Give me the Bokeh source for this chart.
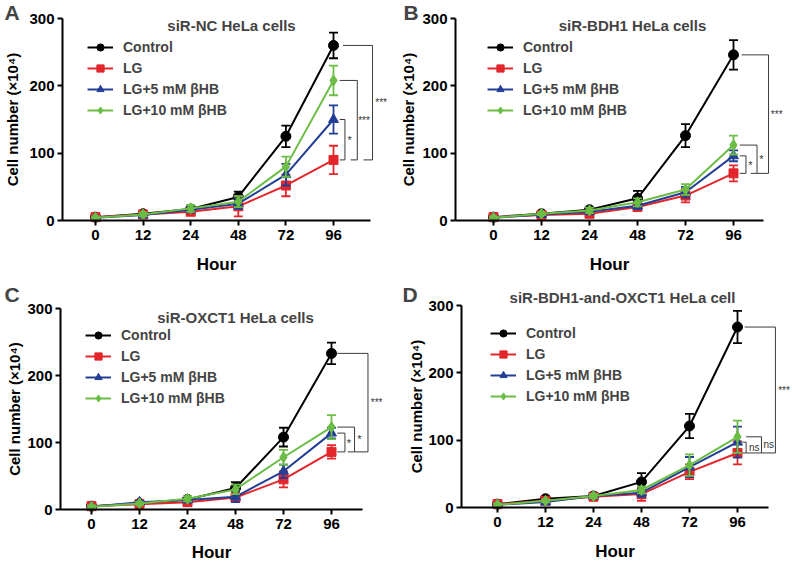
from bokeh.plotting import figure
from bokeh.models import (ColumnDataSource, Legend, LegendItem, Label, FixedTicker, Range1d)
from bokeh.layouts import row, column
from bokeh.embed import file_html
from bokeh.resources import INLINE

# ---------------- data ----------------
hours = ["0", "12", "24", "48", "72", "96"]
groups = ["Control", "LG", "LG+5 mM βHB", "LG+10 mM βHB"]

# Panel A: siR-NC HeLa cells
A_control = [5, 10, 17, 35, 125, 260]
A_control_sd = [2, 3, 4, 8, 16, 19]
A_lg = [5, 9, 13, 21, 52, 90]
A_lg_sd = [2, 3, 4, 15, 16, 21]
A_lg5 = [4, 8, 16, 25, 68, 150]
A_lg5_sd = [2, 3, 4, 8, 16, 21]
A_lg10 = [4, 9, 18, 28, 80, 208]
A_lg10_sd = [2, 3, 5, 8, 15, 22]
A_sig = ["*", "***", "***"]

# Panel B: siR-BDH1 HeLa cells
B_control = [5, 10, 16, 33, 126, 246]
B_control_sd = [2, 3, 3, 11, 17, 22]
B_lg = [5, 8, 10, 20, 37, 70]
B_lg_sd = [2, 2, 3, 5, 10, 12]
B_lg5 = [4, 9, 13, 22, 42, 96]
B_lg5_sd = [2, 2, 3, 5, 8, 8]
B_lg10 = [4, 10, 15, 27, 46, 112]
B_lg10_sd = [2, 2, 4, 6, 8, 14]
B_sig = ["*", "*", "***"]

# Panel C: siR-OXCT1 HeLa cells
C_control = [5, 9, 15, 32, 108, 233]
C_control_sd = [2, 2, 4, 9, 14, 16]
C_lg = [5, 8, 11, 18, 45, 86]
C_lg_sd = [2, 2, 3, 6, 12, 10]
C_lg5 = [4, 11, 14, 19, 57, 114]
C_lg5_sd = [2, 2, 3, 8, 10, 8]
C_lg10 = [4, 9, 16, 30, 78, 123]
C_lg10_sd = [2, 2, 4, 7, 11, 18]
C_sig = ["*", "*", "***"]

# Panel D: siR-BDH1-and-OXCT1 HeLa cell
D_control = [5, 13, 17, 38, 121, 268]
D_control_sd = [2, 3, 4, 13, 18, 24]
D_lg = [5, 10, 16, 20, 53, 81]
D_lg_sd = [2, 2, 3, 10, 11, 17]
D_lg5 = [4, 8, 17, 22, 60, 97]
D_lg5_sd = [2, 3, 3, 6, 15, 23]
D_lg10 = [4, 10, 17, 26, 63, 105]
D_lg10_sd = [2, 2, 3, 5, 16, 24]
D_sig = ["ns", "ns", "***"]

# ---------------- style ----------------
FONT = "Liberation Sans"
COLORS = ["#000000", "#e3262b", "#233e95", "#6cbd45"]
MARKERS = ["circle", "square", "triangle", "diamond"]
MSIZE = [10, 9, 10, 11]


def make_panel(letter, title, means, sds, sig, g):
    ox, oy, fw, fh = g["ox"], g["oy"], g["fw"], g["fh"]
    X0, sp, Y0, k = g["X0"], g["sp"], g["Y0"], g["k"]

    def dx(px):
        return (px - X0) / sp

    def dy(py):
        return (Y0 - py) / k

    p = figure(width=fw, height=fh, output_backend="svg", toolbar_location=None,
               x_range=Range1d(dx(ox), dx(ox + fw)),
               y_range=Range1d(dy(oy + fh), dy(oy)),
               min_border_left=0, min_border_right=0, min_border_top=0,
               min_border_bottom=0)
    p.outline_line_color = None
    p.grid.visible = False
    p.background_fill_color = "white"
    p.border_fill_color = "white"

    x = list(range(len(hours)))
    items = []
    for i, (m, s) in enumerate(zip(means, sds)):
        c = COLORS[i]
        src = ColumnDataSource(dict(x=x, y=m, lo=[a - b for a, b in zip(m, s)],
                                    hi=[a + b for a, b in zip(m, s)]))
        p.segment(x0="x", y0="lo", x1="x", y1="hi", source=src, line_color=c, line_width=1.8)
        p.scatter(x="x", y="hi", source=src, marker="dash", size=9, line_color=c, line_width=1.8)
        p.scatter(x="x", y="lo", source=src, marker="dash", size=9, line_color=c, line_width=1.8)
        lr = p.line(x="x", y="y", source=src, line_color=c, line_width=2)
        sr = p.scatter(x="x", y="y", source=src, marker=MARKERS[i], size=MSIZE[i],
                       fill_color=c, line_color=c)
        items.append(LegendItem(label=groups[i], renderers=[lr, sr]))

    # significance brackets at 96 h
    last = len(hours) - 1
    bx, by = [], []
    for (top, bot, xv, xt, xb, lx), lab in zip(g["brackets"], sig):
        yt = means[top][last]
        yb = means[bot][last]
        bx.append([xt, xv, xv, xb])
        by.append([yt, yt, yb, yb])
        fs = "10px" if lab == "ns" else ("11px" if lab == "*" else "10px")
        p.add_layout(Label(x=lx, y=(yt + yb) / 2, text=lab, text_font=FONT,
                           text_font_size=fs, text_color="#333333",
                           text_align="center", text_baseline="middle"))
    p.multi_line(xs=bx, ys=by, line_color="#3a3a3a", line_width=1)

    # title and panel letter
    tpx, tpy = g["title"]
    p.add_layout(Label(x=dx(tpx), y=dy(tpy), text=title, text_font=FONT,
                       text_font_size="15px", text_font_style="bold",
                       text_align="center", text_baseline="middle"))
    lpx, lpy = g["letter"]
    p.add_layout(Label(x=dx(lpx), y=dy(lpy), text=letter, text_font=FONT,
                       text_font_size="21px", text_font_style="bold",
                       text_align="left", text_baseline="middle"))

    gl, gtop = g["legend"]
    leg_h = 4 * 18 + 3 * 3
    legend = Legend(items=items, location=(gl - ox, (oy + fh) - (gtop + leg_h)),
                    padding=0, margin=0, spacing=3, glyph_width=26, glyph_height=18,
                    label_height=18, label_standoff=10, border_line_color=None,
                    background_fill_alpha=0, label_text_font=FONT,
                    label_text_font_size="14px", label_text_font_style="bold")
    p.add_layout(legend)

    # axes (fixed inside the full-size frame)
    p.xaxis.fixed_location = 0
    p.yaxis.fixed_location = dx(g["axis_x"])
    p.xaxis.ticker = FixedTicker(ticks=x)
    p.xaxis.major_label_overrides = {i: h for i, h in enumerate(hours)}
    p.xaxis.bounds = (dx(g["axis_x"]), dx(g["axis_end"]))
    p.yaxis.ticker = FixedTicker(ticks=[0, 100, 200, 300])
    p.yaxis.bounds = (0, 300)
    for ax in (p.xaxis, p.yaxis):
        ax.axis_line_width = 2
        ax.axis_line_color = "black"
        ax.major_tick_line_width = 2
        ax.major_tick_line_color = "black"
        ax.major_tick_out = 5
        ax.major_tick_in = 0
        ax.minor_tick_line_color = None
        ax.major_label_text_font = FONT
        ax.major_label_text_font_size = "15px"
        ax.major_label_text_font_style = "bold"
        ax.major_label_text_color = "black"
        ax.axis_label_text_font = FONT
        ax.axis_label_text_font_style = "bold"
        ax.axis_label_text_color = "black"
    p.xaxis.axis_label = "Hour"
    p.xaxis.axis_label_text_font_size = "17px"
    p.xaxis.major_label_standoff = 4
    p.xaxis.axis_label_standoff = g["xstand"]
    p.yaxis.axis_label = "Cell number (×10⁴)"
    p.yaxis.axis_label_text_font_size = "15px"
    p.yaxis.major_label_standoff = 3
    p.yaxis.axis_label_standoff = g["ystand"]
    return p


# geometry in page pixels (layout only)
gA = dict(ox=0, oy=0, fw=396, fh=278, X0=95, sp=47.6, Y0=220, k=202 / 300,
          axis_x=62, axis_end=370, xstand=12, ystand=5, title=(231, 25), letter=(4, 12),
          legend=(87, 37.7),
          brackets=[(2, 1, 5.24, 5.13, 5.13, 5.34), (3, 1, 5.5, 5.13, 5.36, 5.64),
                    (0, 1, 5.82, 5.2, 5.63, 6.0)])
gB = dict(ox=396, oy=0, fw=396, fh=278, X0=493, sp=48, Y0=220, k=202 / 300,
          axis_x=455, axis_end=763, xstand=12, ystand=2, title=(632, 25), letter=(403, 12),
          legend=(487, 37.7),
          brackets=[(2, 1, 5.26, 5.13, 5.13, 5.35), (3, 1, 5.49, 5.13, 5.36, 5.58),
                    (0, 1, 5.73, 5.17, 5.49, 5.9)])
gC = dict(ox=0, oy=278, fw=396, fh=284, X0=91, sp=48, Y0=509, k=201 / 300,
          axis_x=60, axis_end=362, xstand=11, ystand=1, title=(235, 317), letter=(4, 294),
          legend=(85, 326),
          brackets=[(2, 1, 5.28, 5.12, 5.12, 5.36), (3, 1, 5.48, 5.12, 5.34, 5.58),
                    (0, 1, 5.76, 5.12, 5.48, 5.94)])
gD = dict(ox=396, oy=278, fw=396, fh=284, X0=497, sp=48, Y0=507, k=202 / 300,
          axis_x=461, axis_end=768, xstand=12, ystand=0, title=(622, 297), letter=(402, 294),
          legend=(490, 324),
          brackets=[(2, 1, 5.18, 5.1, 5.1, 5.35), (3, 1, 5.5, 5.18, 5.18, 5.65),
                    (0, 1, 5.79, 5.15, 5.5, 5.97)])

pA = make_panel("A", "siR-NC HeLa cells", [A_control, A_lg, A_lg5, A_lg10],
                [A_control_sd, A_lg_sd, A_lg5_sd, A_lg10_sd], A_sig, gA)
pB = make_panel("B", "siR-BDH1 HeLa cells", [B_control, B_lg, B_lg5, B_lg10],
                [B_control_sd, B_lg_sd, B_lg5_sd, B_lg10_sd], B_sig, gB)
pC = make_panel("C", "siR-OXCT1 HeLa cells", [C_control, C_lg, C_lg5, C_lg10],
                [C_control_sd, C_lg_sd, C_lg5_sd, C_lg10_sd], C_sig, gC)
pD = make_panel("D", "siR-BDH1-and-OXCT1 HeLa cell", [D_control, D_lg, D_lg5, D_lg10],
                [D_control_sd, D_lg_sd, D_lg5_sd, D_lg10_sd], D_sig, gD)

layout = column(row(pA, pB), row(pC, pD))
open("out.html", "w").write(file_html(layout, INLINE))
